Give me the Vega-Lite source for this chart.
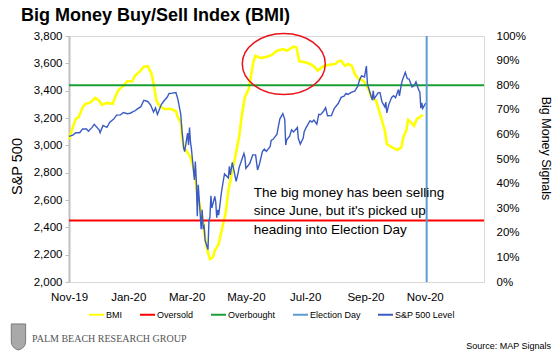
{
  "$schema": "https://vega.github.io/schema/vega-lite/v6.json",
  "width": 415,
  "height": 246,
  "autosize": {"type": "none"},
  "padding": {"left": 69, "top": 36, "right": 76, "bottom": 78},
  "background": "white",
  "title": {"text": "Big Money Buy/Sell Index (BMI)", "anchor": "start", "frame": "group", "dx": -48, "offset": 5, "font": "Liberation Sans", "fontSize": 18, "fontWeight": "bold", "color": "#000000"},
  "config": {
    "font": "Liberation Sans",
    "view": {"stroke": "#d9d9d9", "strokeWidth": 1},
    "axis": {"grid": false, "labelColor": "#000000", "titleColor": "#000000", "labelFont": "Liberation Sans", "titleFont": "Liberation Sans", "titleFontWeight": "normal"},
    "legend": {"orient": "none", "legendX": 19, "legendY": 270, "direction": "horizontal", "symbolType": "stroke", "symbolSize": 225, "symbolStrokeWidth": 2, "labelFontSize": 9, "labelFont": "Liberation Sans", "labelColor": "#000000", "labelOffset": 1, "columnPadding": 13, "padding": 0}
  },
  "datasets": {
    "bmi": [
      {"date": "2019-11-01", "bmi": 0.58, "series": "BMI"},
      {"date": "2019-11-05", "bmi": 0.63, "series": "BMI"},
      {"date": "2019-11-08", "bmi": 0.663, "series": "BMI"},
      {"date": "2019-11-11", "bmi": 0.67, "series": "BMI"},
      {"date": "2019-11-15", "bmi": 0.71, "series": "BMI"},
      {"date": "2019-11-18", "bmi": 0.724, "series": "BMI"},
      {"date": "2019-11-23", "bmi": 0.73, "series": "BMI"},
      {"date": "2019-11-28", "bmi": 0.748, "series": "BMI"},
      {"date": "2019-12-02", "bmi": 0.737, "series": "BMI"},
      {"date": "2019-12-05", "bmi": 0.72, "series": "BMI"},
      {"date": "2019-12-10", "bmi": 0.728, "series": "BMI"},
      {"date": "2019-12-16", "bmi": 0.724, "series": "BMI"},
      {"date": "2019-12-19", "bmi": 0.757, "series": "BMI"},
      {"date": "2019-12-22", "bmi": 0.78, "series": "BMI"},
      {"date": "2019-12-27", "bmi": 0.798, "series": "BMI"},
      {"date": "2019-12-31", "bmi": 0.816, "series": "BMI"},
      {"date": "2020-01-05", "bmi": 0.816, "series": "BMI"},
      {"date": "2020-01-08", "bmi": 0.839, "series": "BMI"},
      {"date": "2020-01-13", "bmi": 0.856, "series": "BMI"},
      {"date": "2020-01-17", "bmi": 0.875, "series": "BMI"},
      {"date": "2020-01-21", "bmi": 0.877, "series": "BMI"},
      {"date": "2020-01-25", "bmi": 0.846, "series": "BMI"},
      {"date": "2020-01-27", "bmi": 0.805, "series": "BMI"},
      {"date": "2020-01-30", "bmi": 0.737, "series": "BMI"},
      {"date": "2020-02-02", "bmi": 0.717, "series": "BMI"},
      {"date": "2020-02-07", "bmi": 0.703, "series": "BMI"},
      {"date": "2020-02-14", "bmi": 0.703, "series": "BMI"},
      {"date": "2020-02-19", "bmi": 0.694, "series": "BMI"},
      {"date": "2020-02-21", "bmi": 0.67, "series": "BMI"},
      {"date": "2020-02-24", "bmi": 0.649, "series": "BMI"},
      {"date": "2020-02-25", "bmi": 0.602, "series": "BMI"},
      {"date": "2020-02-27", "bmi": 0.548, "series": "BMI"},
      {"date": "2020-03-02", "bmi": 0.527, "series": "BMI"},
      {"date": "2020-03-05", "bmi": 0.507, "series": "BMI"},
      {"date": "2020-03-08", "bmi": 0.466, "series": "BMI"},
      {"date": "2020-03-10", "bmi": 0.426, "series": "BMI"},
      {"date": "2020-03-12", "bmi": 0.358, "series": "BMI"},
      {"date": "2020-03-15", "bmi": 0.304, "series": "BMI"},
      {"date": "2020-03-18", "bmi": 0.249, "series": "BMI"},
      {"date": "2020-03-20", "bmi": 0.182, "series": "BMI"},
      {"date": "2020-03-22", "bmi": 0.134, "series": "BMI"},
      {"date": "2020-03-25", "bmi": 0.093, "series": "BMI"},
      {"date": "2020-03-28", "bmi": 0.1, "series": "BMI"},
      {"date": "2020-03-30", "bmi": 0.127, "series": "BMI"},
      {"date": "2020-04-03", "bmi": 0.154, "series": "BMI"},
      {"date": "2020-04-06", "bmi": 0.209, "series": "BMI"},
      {"date": "2020-04-10", "bmi": 0.276, "series": "BMI"},
      {"date": "2020-04-13", "bmi": 0.371, "series": "BMI"},
      {"date": "2020-04-17", "bmi": 0.452, "series": "BMI"},
      {"date": "2020-04-20", "bmi": 0.507, "series": "BMI"},
      {"date": "2020-04-24", "bmi": 0.588, "series": "BMI"},
      {"date": "2020-04-27", "bmi": 0.683, "series": "BMI"},
      {"date": "2020-04-30", "bmi": 0.751, "series": "BMI"},
      {"date": "2020-05-04", "bmi": 0.785, "series": "BMI"},
      {"date": "2020-05-06", "bmi": 0.832, "series": "BMI"},
      {"date": "2020-05-09", "bmi": 0.9, "series": "BMI"},
      {"date": "2020-05-11", "bmi": 0.92, "series": "BMI"},
      {"date": "2020-05-16", "bmi": 0.91, "series": "BMI"},
      {"date": "2020-05-23", "bmi": 0.916, "series": "BMI"},
      {"date": "2020-05-28", "bmi": 0.924, "series": "BMI"},
      {"date": "2020-06-02", "bmi": 0.94, "series": "BMI"},
      {"date": "2020-06-09", "bmi": 0.947, "series": "BMI"},
      {"date": "2020-06-12", "bmi": 0.94, "series": "BMI"},
      {"date": "2020-06-15", "bmi": 0.947, "series": "BMI"},
      {"date": "2020-06-19", "bmi": 0.957, "series": "BMI"},
      {"date": "2020-06-22", "bmi": 0.954, "series": "BMI"},
      {"date": "2020-06-25", "bmi": 0.897, "series": "BMI"},
      {"date": "2020-07-01", "bmi": 0.893, "series": "BMI"},
      {"date": "2020-07-06", "bmi": 0.886, "series": "BMI"},
      {"date": "2020-07-11", "bmi": 0.873, "series": "BMI"},
      {"date": "2020-07-14", "bmi": 0.859, "series": "BMI"},
      {"date": "2020-07-18", "bmi": 0.873, "series": "BMI"},
      {"date": "2020-07-21", "bmi": 0.879, "series": "BMI"},
      {"date": "2020-07-26", "bmi": 0.883, "series": "BMI"},
      {"date": "2020-08-01", "bmi": 0.886, "series": "BMI"},
      {"date": "2020-08-04", "bmi": 0.897, "series": "BMI"},
      {"date": "2020-08-07", "bmi": 0.9, "series": "BMI"},
      {"date": "2020-08-11", "bmi": 0.879, "series": "BMI"},
      {"date": "2020-08-14", "bmi": 0.886, "series": "BMI"},
      {"date": "2020-08-18", "bmi": 0.879, "series": "BMI"},
      {"date": "2020-08-21", "bmi": 0.846, "series": "BMI"},
      {"date": "2020-08-25", "bmi": 0.825, "series": "BMI"},
      {"date": "2020-08-30", "bmi": 0.818, "series": "BMI"},
      {"date": "2020-09-04", "bmi": 0.785, "series": "BMI"},
      {"date": "2020-09-07", "bmi": 0.751, "series": "BMI"},
      {"date": "2020-09-12", "bmi": 0.737, "series": "BMI"},
      {"date": "2020-09-17", "bmi": 0.67, "series": "BMI"},
      {"date": "2020-09-21", "bmi": 0.615, "series": "BMI"},
      {"date": "2020-09-23", "bmi": 0.561, "series": "BMI"},
      {"date": "2020-09-28", "bmi": 0.548, "series": "BMI"},
      {"date": "2020-10-04", "bmi": 0.537, "series": "BMI"},
      {"date": "2020-10-08", "bmi": 0.548, "series": "BMI"},
      {"date": "2020-10-10", "bmi": 0.588, "series": "BMI"},
      {"date": "2020-10-13", "bmi": 0.615, "series": "BMI"},
      {"date": "2020-10-15", "bmi": 0.659, "series": "BMI"},
      {"date": "2020-10-18", "bmi": 0.649, "series": "BMI"},
      {"date": "2020-10-21", "bmi": 0.635, "series": "BMI"},
      {"date": "2020-10-24", "bmi": 0.663, "series": "BMI"},
      {"date": "2020-10-27", "bmi": 0.67, "series": "BMI"},
      {"date": "2020-10-30", "bmi": 0.68, "series": "BMI"}
    ],
    "levels": [
      {"series": "Oversold", "bmi": 0.25},
      {"series": "Overbought", "bmi": 0.8}
    ],
    "events": [
      {"series": "Election Day", "date": "2020-11-03"}
    ],
    "sp": [
      {"date": "2019-11-01", "sp": 3066, "series": "S&P 500 Level"},
      {"date": "2019-11-05", "sp": 3075, "series": "S&P 500 Level"},
      {"date": "2019-11-08", "sp": 3093, "series": "S&P 500 Level"},
      {"date": "2019-11-12", "sp": 3092, "series": "S&P 500 Level"},
      {"date": "2019-11-15", "sp": 3120, "series": "S&P 500 Level"},
      {"date": "2019-11-19", "sp": 3120, "series": "S&P 500 Level"},
      {"date": "2019-11-21", "sp": 3104, "series": "S&P 500 Level"},
      {"date": "2019-11-25", "sp": 3133, "series": "S&P 500 Level"},
      {"date": "2019-11-27", "sp": 3154, "series": "S&P 500 Level"},
      {"date": "2019-12-02", "sp": 3114, "series": "S&P 500 Level"},
      {"date": "2019-12-03", "sp": 3093, "series": "S&P 500 Level"},
      {"date": "2019-12-06", "sp": 3146, "series": "S&P 500 Level"},
      {"date": "2019-12-10", "sp": 3132, "series": "S&P 500 Level"},
      {"date": "2019-12-13", "sp": 3169, "series": "S&P 500 Level"},
      {"date": "2019-12-17", "sp": 3192, "series": "S&P 500 Level"},
      {"date": "2019-12-20", "sp": 3221, "series": "S&P 500 Level"},
      {"date": "2019-12-24", "sp": 3223, "series": "S&P 500 Level"},
      {"date": "2019-12-27", "sp": 3240, "series": "S&P 500 Level"},
      {"date": "2019-12-31", "sp": 3231, "series": "S&P 500 Level"},
      {"date": "2020-01-03", "sp": 3235, "series": "S&P 500 Level"},
      {"date": "2020-01-06", "sp": 3246, "series": "S&P 500 Level"},
      {"date": "2020-01-08", "sp": 3253, "series": "S&P 500 Level"},
      {"date": "2020-01-10", "sp": 3265, "series": "S&P 500 Level"},
      {"date": "2020-01-14", "sp": 3283, "series": "S&P 500 Level"},
      {"date": "2020-01-17", "sp": 3330, "series": "S&P 500 Level"},
      {"date": "2020-01-21", "sp": 3321, "series": "S&P 500 Level"},
      {"date": "2020-01-24", "sp": 3295, "series": "S&P 500 Level"},
      {"date": "2020-01-27", "sp": 3244, "series": "S&P 500 Level"},
      {"date": "2020-01-29", "sp": 3273, "series": "S&P 500 Level"},
      {"date": "2020-01-31", "sp": 3226, "series": "S&P 500 Level"},
      {"date": "2020-02-04", "sp": 3298, "series": "S&P 500 Level"},
      {"date": "2020-02-07", "sp": 3328, "series": "S&P 500 Level"},
      {"date": "2020-02-10", "sp": 3352, "series": "S&P 500 Level"},
      {"date": "2020-02-12", "sp": 3379, "series": "S&P 500 Level"},
      {"date": "2020-02-14", "sp": 3380, "series": "S&P 500 Level"},
      {"date": "2020-02-19", "sp": 3386, "series": "S&P 500 Level"},
      {"date": "2020-02-21", "sp": 3338, "series": "S&P 500 Level"},
      {"date": "2020-02-24", "sp": 3226, "series": "S&P 500 Level"},
      {"date": "2020-02-25", "sp": 3128, "series": "S&P 500 Level"},
      {"date": "2020-02-27", "sp": 2979, "series": "S&P 500 Level"},
      {"date": "2020-02-28", "sp": 2954, "series": "S&P 500 Level"},
      {"date": "2020-03-02", "sp": 3090, "series": "S&P 500 Level"},
      {"date": "2020-03-03", "sp": 3003, "series": "S&P 500 Level"},
      {"date": "2020-03-04", "sp": 3130, "series": "S&P 500 Level"},
      {"date": "2020-03-05", "sp": 3024, "series": "S&P 500 Level"},
      {"date": "2020-03-06", "sp": 2972, "series": "S&P 500 Level"},
      {"date": "2020-03-09", "sp": 2747, "series": "S&P 500 Level"},
      {"date": "2020-03-10", "sp": 2882, "series": "S&P 500 Level"},
      {"date": "2020-03-11", "sp": 2741, "series": "S&P 500 Level"},
      {"date": "2020-03-12", "sp": 2481, "series": "S&P 500 Level"},
      {"date": "2020-03-13", "sp": 2711, "series": "S&P 500 Level"},
      {"date": "2020-03-16", "sp": 2386, "series": "S&P 500 Level"},
      {"date": "2020-03-17", "sp": 2529, "series": "S&P 500 Level"},
      {"date": "2020-03-18", "sp": 2398, "series": "S&P 500 Level"},
      {"date": "2020-03-19", "sp": 2409, "series": "S&P 500 Level"},
      {"date": "2020-03-20", "sp": 2305, "series": "S&P 500 Level"},
      {"date": "2020-03-23", "sp": 2237, "series": "S&P 500 Level"},
      {"date": "2020-03-24", "sp": 2447, "series": "S&P 500 Level"},
      {"date": "2020-03-25", "sp": 2475, "series": "S&P 500 Level"},
      {"date": "2020-03-26", "sp": 2630, "series": "S&P 500 Level"},
      {"date": "2020-03-27", "sp": 2541, "series": "S&P 500 Level"},
      {"date": "2020-03-30", "sp": 2627, "series": "S&P 500 Level"},
      {"date": "2020-03-31", "sp": 2585, "series": "S&P 500 Level"},
      {"date": "2020-04-01", "sp": 2471, "series": "S&P 500 Level"},
      {"date": "2020-04-02", "sp": 2527, "series": "S&P 500 Level"},
      {"date": "2020-04-03", "sp": 2489, "series": "S&P 500 Level"},
      {"date": "2020-04-06", "sp": 2664, "series": "S&P 500 Level"},
      {"date": "2020-04-08", "sp": 2750, "series": "S&P 500 Level"},
      {"date": "2020-04-09", "sp": 2790, "series": "S&P 500 Level"},
      {"date": "2020-04-13", "sp": 2762, "series": "S&P 500 Level"},
      {"date": "2020-04-14", "sp": 2846, "series": "S&P 500 Level"},
      {"date": "2020-04-15", "sp": 2784, "series": "S&P 500 Level"},
      {"date": "2020-04-17", "sp": 2875, "series": "S&P 500 Level"},
      {"date": "2020-04-21", "sp": 2737, "series": "S&P 500 Level"},
      {"date": "2020-04-23", "sp": 2798, "series": "S&P 500 Level"},
      {"date": "2020-04-24", "sp": 2837, "series": "S&P 500 Level"},
      {"date": "2020-04-29", "sp": 2940, "series": "S&P 500 Level"},
      {"date": "2020-04-30", "sp": 2912, "series": "S&P 500 Level"},
      {"date": "2020-05-01", "sp": 2831, "series": "S&P 500 Level"},
      {"date": "2020-05-05", "sp": 2868, "series": "S&P 500 Level"},
      {"date": "2020-05-08", "sp": 2930, "series": "S&P 500 Level"},
      {"date": "2020-05-11", "sp": 2930, "series": "S&P 500 Level"},
      {"date": "2020-05-13", "sp": 2820, "series": "S&P 500 Level"},
      {"date": "2020-05-15", "sp": 2864, "series": "S&P 500 Level"},
      {"date": "2020-05-18", "sp": 2954, "series": "S&P 500 Level"},
      {"date": "2020-05-20", "sp": 2972, "series": "S&P 500 Level"},
      {"date": "2020-05-22", "sp": 2955, "series": "S&P 500 Level"},
      {"date": "2020-05-26", "sp": 2992, "series": "S&P 500 Level"},
      {"date": "2020-05-27", "sp": 3036, "series": "S&P 500 Level"},
      {"date": "2020-05-29", "sp": 3044, "series": "S&P 500 Level"},
      {"date": "2020-06-02", "sp": 3081, "series": "S&P 500 Level"},
      {"date": "2020-06-03", "sp": 3123, "series": "S&P 500 Level"},
      {"date": "2020-06-05", "sp": 3194, "series": "S&P 500 Level"},
      {"date": "2020-06-08", "sp": 3232, "series": "S&P 500 Level"},
      {"date": "2020-06-10", "sp": 3190, "series": "S&P 500 Level"},
      {"date": "2020-06-11", "sp": 3002, "series": "S&P 500 Level"},
      {"date": "2020-06-12", "sp": 3041, "series": "S&P 500 Level"},
      {"date": "2020-06-15", "sp": 3067, "series": "S&P 500 Level"},
      {"date": "2020-06-17", "sp": 3113, "series": "S&P 500 Level"},
      {"date": "2020-06-19", "sp": 3098, "series": "S&P 500 Level"},
      {"date": "2020-06-23", "sp": 3131, "series": "S&P 500 Level"},
      {"date": "2020-06-24", "sp": 3050, "series": "S&P 500 Level"},
      {"date": "2020-06-26", "sp": 3009, "series": "S&P 500 Level"},
      {"date": "2020-06-29", "sp": 3053, "series": "S&P 500 Level"},
      {"date": "2020-06-30", "sp": 3100, "series": "S&P 500 Level"},
      {"date": "2020-07-02", "sp": 3130, "series": "S&P 500 Level"},
      {"date": "2020-07-06", "sp": 3180, "series": "S&P 500 Level"},
      {"date": "2020-07-08", "sp": 3170, "series": "S&P 500 Level"},
      {"date": "2020-07-10", "sp": 3185, "series": "S&P 500 Level"},
      {"date": "2020-07-13", "sp": 3155, "series": "S&P 500 Level"},
      {"date": "2020-07-15", "sp": 3227, "series": "S&P 500 Level"},
      {"date": "2020-07-17", "sp": 3225, "series": "S&P 500 Level"},
      {"date": "2020-07-20", "sp": 3251, "series": "S&P 500 Level"},
      {"date": "2020-07-22", "sp": 3276, "series": "S&P 500 Level"},
      {"date": "2020-07-24", "sp": 3216, "series": "S&P 500 Level"},
      {"date": "2020-07-28", "sp": 3218, "series": "S&P 500 Level"},
      {"date": "2020-07-31", "sp": 3271, "series": "S&P 500 Level"},
      {"date": "2020-08-04", "sp": 3306, "series": "S&P 500 Level"},
      {"date": "2020-08-07", "sp": 3351, "series": "S&P 500 Level"},
      {"date": "2020-08-10", "sp": 3360, "series": "S&P 500 Level"},
      {"date": "2020-08-12", "sp": 3380, "series": "S&P 500 Level"},
      {"date": "2020-08-14", "sp": 3373, "series": "S&P 500 Level"},
      {"date": "2020-08-18", "sp": 3390, "series": "S&P 500 Level"},
      {"date": "2020-08-21", "sp": 3397, "series": "S&P 500 Level"},
      {"date": "2020-08-24", "sp": 3431, "series": "S&P 500 Level"},
      {"date": "2020-08-26", "sp": 3479, "series": "S&P 500 Level"},
      {"date": "2020-08-28", "sp": 3508, "series": "S&P 500 Level"},
      {"date": "2020-08-31", "sp": 3500, "series": "S&P 500 Level"},
      {"date": "2020-09-02", "sp": 3580, "series": "S&P 500 Level"},
      {"date": "2020-09-03", "sp": 3455, "series": "S&P 500 Level"},
      {"date": "2020-09-04", "sp": 3427, "series": "S&P 500 Level"},
      {"date": "2020-09-08", "sp": 3331, "series": "S&P 500 Level"},
      {"date": "2020-09-09", "sp": 3399, "series": "S&P 500 Level"},
      {"date": "2020-09-10", "sp": 3340, "series": "S&P 500 Level"},
      {"date": "2020-09-14", "sp": 3384, "series": "S&P 500 Level"},
      {"date": "2020-09-16", "sp": 3385, "series": "S&P 500 Level"},
      {"date": "2020-09-18", "sp": 3319, "series": "S&P 500 Level"},
      {"date": "2020-09-21", "sp": 3281, "series": "S&P 500 Level"},
      {"date": "2020-09-22", "sp": 3316, "series": "S&P 500 Level"},
      {"date": "2020-09-23", "sp": 3237, "series": "S&P 500 Level"},
      {"date": "2020-09-25", "sp": 3298, "series": "S&P 500 Level"},
      {"date": "2020-09-28", "sp": 3351, "series": "S&P 500 Level"},
      {"date": "2020-09-30", "sp": 3363, "series": "S&P 500 Level"},
      {"date": "2020-10-02", "sp": 3348, "series": "S&P 500 Level"},
      {"date": "2020-10-05", "sp": 3408, "series": "S&P 500 Level"},
      {"date": "2020-10-06", "sp": 3361, "series": "S&P 500 Level"},
      {"date": "2020-10-08", "sp": 3447, "series": "S&P 500 Level"},
      {"date": "2020-10-09", "sp": 3477, "series": "S&P 500 Level"},
      {"date": "2020-10-12", "sp": 3534, "series": "S&P 500 Level"},
      {"date": "2020-10-14", "sp": 3489, "series": "S&P 500 Level"},
      {"date": "2020-10-16", "sp": 3484, "series": "S&P 500 Level"},
      {"date": "2020-10-19", "sp": 3427, "series": "S&P 500 Level"},
      {"date": "2020-10-21", "sp": 3436, "series": "S&P 500 Level"},
      {"date": "2020-10-23", "sp": 3465, "series": "S&P 500 Level"},
      {"date": "2020-10-26", "sp": 3401, "series": "S&P 500 Level"},
      {"date": "2020-10-27", "sp": 3391, "series": "S&P 500 Level"},
      {"date": "2020-10-28", "sp": 3271, "series": "S&P 500 Level"},
      {"date": "2020-10-29", "sp": 3310, "series": "S&P 500 Level"},
      {"date": "2020-10-30", "sp": 3270, "series": "S&P 500 Level"},
      {"date": "2020-11-02", "sp": 3310, "series": "S&P 500 Level"}
    ]
  },
  "layer": [
    {
      "layer": [
        {
          "data": {"name": "bmi"},
          "mark": {"type": "line", "strokeWidth": 2.6},
          "encoding": {
            "x": {
              "field": "date", "type": "temporal",
              "scale": {"domain": [{"year": 2019, "month": 11, "date": 1}, {"year": 2021, "month": 1, "date": 1}]},
              "axis": {
                "title": null, "format": "%b-%y", "labelFlush": false, "labelOverlap": false, "domain": false, "ticks": false, "labelPadding": 9, "labelFontSize": 11.5,
                "values": [{"year": 2019, "month": 11, "date": 1}, {"year": 2020, "month": 1, "date": 1}, {"year": 2020, "month": 3, "date": 1}, {"year": 2020, "month": 5, "date": 1}, {"year": 2020, "month": 7, "date": 1}, {"year": 2020, "month": 9, "date": 1}, {"year": 2020, "month": 11, "date": 1}]
              }
            },
            "y": {
              "field": "bmi", "type": "quantitative",
              "scale": {"domain": [0, 1], "nice": false},
              "axis": {"orient": "right", "title": "Big Money Signals", "format": ".0%", "tickCount": 10, "labelOverlap": false, "domain": false, "ticks": false, "labelPadding": 12, "labelFontSize": 11.5, "titleFontSize": 12.5, "titlePadding": 13, "titleY": 112}
            },
            "color": {
              "field": "series", "type": "nominal", "title": null,
              "scale": {"domain": ["BMI", "Oversold", "Overbought", "Election Day", "S&P 500 Level"], "range": ["#ffff00", "#ff0000", "#1a9e35", "#5b9bd5", "#3b5bc4"]}
            }
          }
        },
        {
          "data": {"name": "levels"},
          "mark": {"type": "rule", "strokeWidth": 2},
          "encoding": {
            "y": {"field": "bmi", "type": "quantitative"},
            "color": {"field": "series", "type": "nominal", "title": null}
          }
        }
      ]
    },
    {
      "layer": [
        {
          "data": {"name": "sp"},
          "mark": {"type": "line", "strokeWidth": 1.4},
          "encoding": {
            "x": {"field": "date", "type": "temporal"},
            "y": {
              "field": "sp", "type": "quantitative",
              "scale": {"domain": [2000, 3800], "nice": false},
              "axis": {"orient": "left", "title": "S&P 500", "format": ",.0f", "tickCount": 9, "labelOverlap": false, "domain": true, "domainColor": "#bfbfbf", "domainWidth": 2, "ticks": true, "tickColor": "#bfbfbf", "tickSize": 4, "labelPadding": 3, "labelFontSize": 11.5, "titleFontSize": 14.5, "titlePadding": 9, "titleY": 130}
            },
            "color": {"field": "series", "type": "nominal", "title": null}
          }
        },
        {
          "data": {"name": "events"},
          "mark": {"type": "rule", "strokeWidth": 2},
          "encoding": {
            "x": {"field": "date", "type": "temporal"},
            "color": {"field": "series", "type": "nominal", "title": null}
          }
        },
        {
          "data": {"values": [{}]},
          "mark": {"type": "point", "shape": "M-1,0A1,0.735,0,1,1,1,0A1,0.735,0,1,1,-1,0Z", "size": 6889, "filled": false, "color": "#e8141b", "strokeWidth": 1.5, "opacity": 1},
          "encoding": {
            "x": {"datum": {"year": 2020, "month": 6, "date": 9}, "type": "temporal"},
            "y": {"datum": 3595, "type": "quantitative"}
          }
        },
        {
          "data": {"values": [{}]},
          "mark": {"type": "text", "text": ["The big money has been selling", "since June, but it's picked up", "heading into Election Day"], "align": "left", "baseline": "alphabetic", "fontSize": 13.5, "lineHeight": 18.5, "font": "Liberation Sans", "color": "#000000"},
          "encoding": {
            "x": {"datum": {"year": 2020, "month": 5, "date": 9}, "type": "temporal"},
            "y": {"datum": 2622, "type": "quantitative"}
          }
        },
        {
          "data": {"values": [{}]},
          "mark": {"type": "point", "shape": "M-0.55,-1L0.55,-1L0.55,0.35Q0.55,0.85,0,1Q-0.55,0.85,-0.55,0.35Z", "size": 676, "filled": true, "color": "#a9a9a9", "stroke": "#7a7a7a", "strokeWidth": 1, "opacity": 1},
          "encoding": {
            "x": {"datum": {"year": 2019, "month": 9, "date": 10}, "type": "temporal"},
            "y": {"datum": 1598, "type": "quantitative"}
          }
        },
        {
          "data": {"values": [{}]},
          "mark": {"type": "text", "text": "PALM BEACH RESEARCH GROUP", "align": "left", "baseline": "alphabetic", "fontSize": 10, "font": "Liberation Serif", "color": "#555555"},
          "encoding": {
            "x": {"datum": {"year": 2019, "month": 9, "date": 24}, "type": "temporal"},
            "y": {"datum": 1561, "type": "quantitative"}
          }
        },
        {
          "data": {"values": [{}]},
          "mark": {"type": "text", "text": "Source: MAP Signals", "align": "right", "baseline": "alphabetic", "fontSize": 9, "font": "Liberation Sans", "color": "#000000"},
          "encoding": {
            "x": {"datum": {"year": 2021, "month": 3, "date": 11}, "type": "temporal"},
            "y": {"datum": 1510, "type": "quantitative"}
          }
        }
      ]
    }
  ],
  "resolve": {"scale": {"y": "independent"}}
}
